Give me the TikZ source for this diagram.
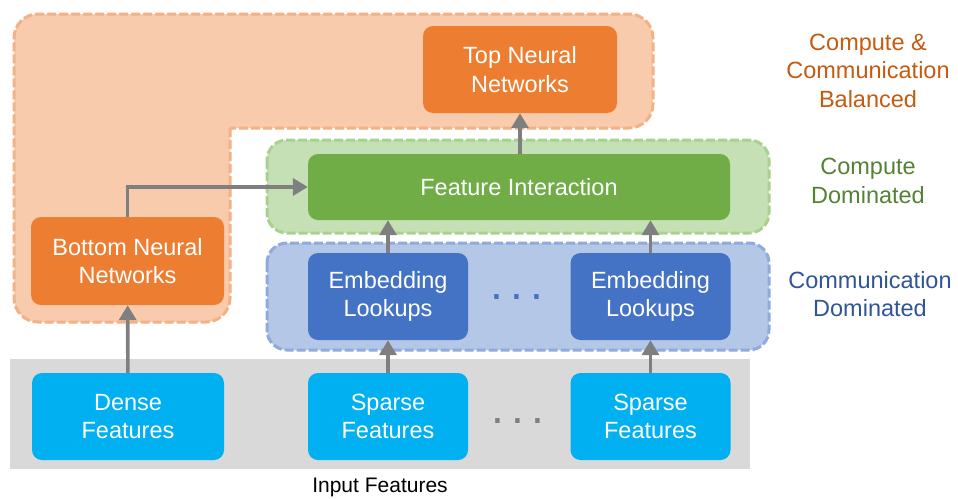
\documentclass[tikz,border=0pt]{standalone}
\usepackage{fontspec}
\setmainfont{Liberation Sans}
\usetikzlibrary{arrows.meta}

\definecolor{topor}{HTML}{ED7D31}
\definecolor{orfill}{HTML}{F8CBAD}
\definecolor{orline}{HTML}{F4B183}
\definecolor{intgreen}{HTML}{70AD47}
\definecolor{grfill}{HTML}{C5E0B4}
\definecolor{grline}{HTML}{A9D18E}
\definecolor{embblue}{HTML}{4472C4}
\definecolor{blfill}{HTML}{B4C7E7}
\definecolor{blline}{HTML}{8FAADC}
\definecolor{featcyan}{HTML}{00B0F0}
\definecolor{bandgray}{HTML}{D9D9D9}
\definecolor{arrgray}{HTML}{7F7F7F}
\definecolor{lblor}{HTML}{C55A11}
\definecolor{lblgr}{HTML}{548235}
\definecolor{lblbl}{HTML}{2F5597}

\tikzset{
  blk/.style={rounded corners=10pt, text=white, align=center,
              font=\fontsize{23.5}{28.5}\selectfont, inner sep=0pt},
  group/.style={line width=3pt, dash pattern=on 9pt off 3pt,
                preaction={draw=white, line width=3pt}},
  flow/.style={draw=arrgray, line width=3.6pt,
               -{Triangle[width=17pt,length=15pt]}},
  side/.style={align=center, font=\fontsize{23.5}{28.5}\selectfont},
}

\begin{document}
\begin{tikzpicture}[x=1pt, y=-1pt]
  \useasboundingbox (0,0) rectangle (958,498);

  % background groups
  \fill[bandgray] (10,359) rectangle (750,469);
  \path[group, fill=orfill, draw=orline]
    (230,128) [rounded corners=24pt] -- (230,322) -- (14,322) -- (14,14)
    -- (653,14) -- (653,128) [sharp corners] -- cycle;
  \path[group, fill=grfill, draw=grline, rounded corners=20pt]
    (267,140) rectangle (769,233);
  \path[group, fill=blfill, draw=blline, rounded corners=20pt]
    (267,243) rectangle (769,350);

  % blocks
  \node[blk, fill=featcyan, minimum width=192pt, minimum height=87pt]
    (dense) at (128,416.5) {Dense\\Features};
  \node[blk, fill=topor, minimum width=193pt, minimum height=88pt]
    (bottom) at (127.5,261) {Bottom Neural\\Networks};
  \foreach \col/\cx in {A/388,B/650.5}{
    \node[blk, fill=featcyan, minimum width=160pt, minimum height=87pt]
      (sparse\col) at (\cx,416.5) {Sparse\\Features};
    \node[blk, fill=embblue, minimum width=160pt, minimum height=87pt]
      (emb\col) at (\cx,296.5) {Embedding\\Lookups};
  }
  \node[blk, fill=intgreen, minimum width=422pt, minimum height=66pt]
    (inter) at (519,187) {Feature Interaction};
  \node[blk, fill=topor, minimum width=194pt, minimum height=87pt]
    (top) at (520,69.5) {Top Neural\\Networks};

  \node[text=arrgray, font=\fontsize{46}{46}\selectfont, inner sep=0pt]
    (dotsin) at (518,421) {.\hspace{7pt}.\hspace{7pt}.};
  \node[text=embblue, font=\fontsize{46}{46}\selectfont, inner sep=0pt]
    (dotsemb) at (517,297) {.\hspace{7pt}.\hspace{7pt}.};
  \node[font=\fontsize{21}{25}\selectfont] (inlbl) at (380,487) {Input Features};

  % side labels
  \node[side, text=lblor] (lblbal) at (868,70.5) {Compute \&\\Communication\\Balanced};
  \node[side, text=lblgr] (lblcomp) at (868,181) {Compute\\Dominated};
  \node[side, text=lblbl] (lblcomm) at (870,294) {Communication\\Dominated};

  % arrows
  \draw[flow] (dense) -- (bottom);
  \draw[flow] (bottom.north) |- (inter.west);
  \foreach \col in {A,B}{
    \draw[flow] (sparse\col) -- (emb\col);
    \draw[flow] (emb\col) -- (emb\col.north |- inter.south);
  }
  \draw[flow] (top.south |- inter.north) -- (top);
\end{tikzpicture}
\end{document}
